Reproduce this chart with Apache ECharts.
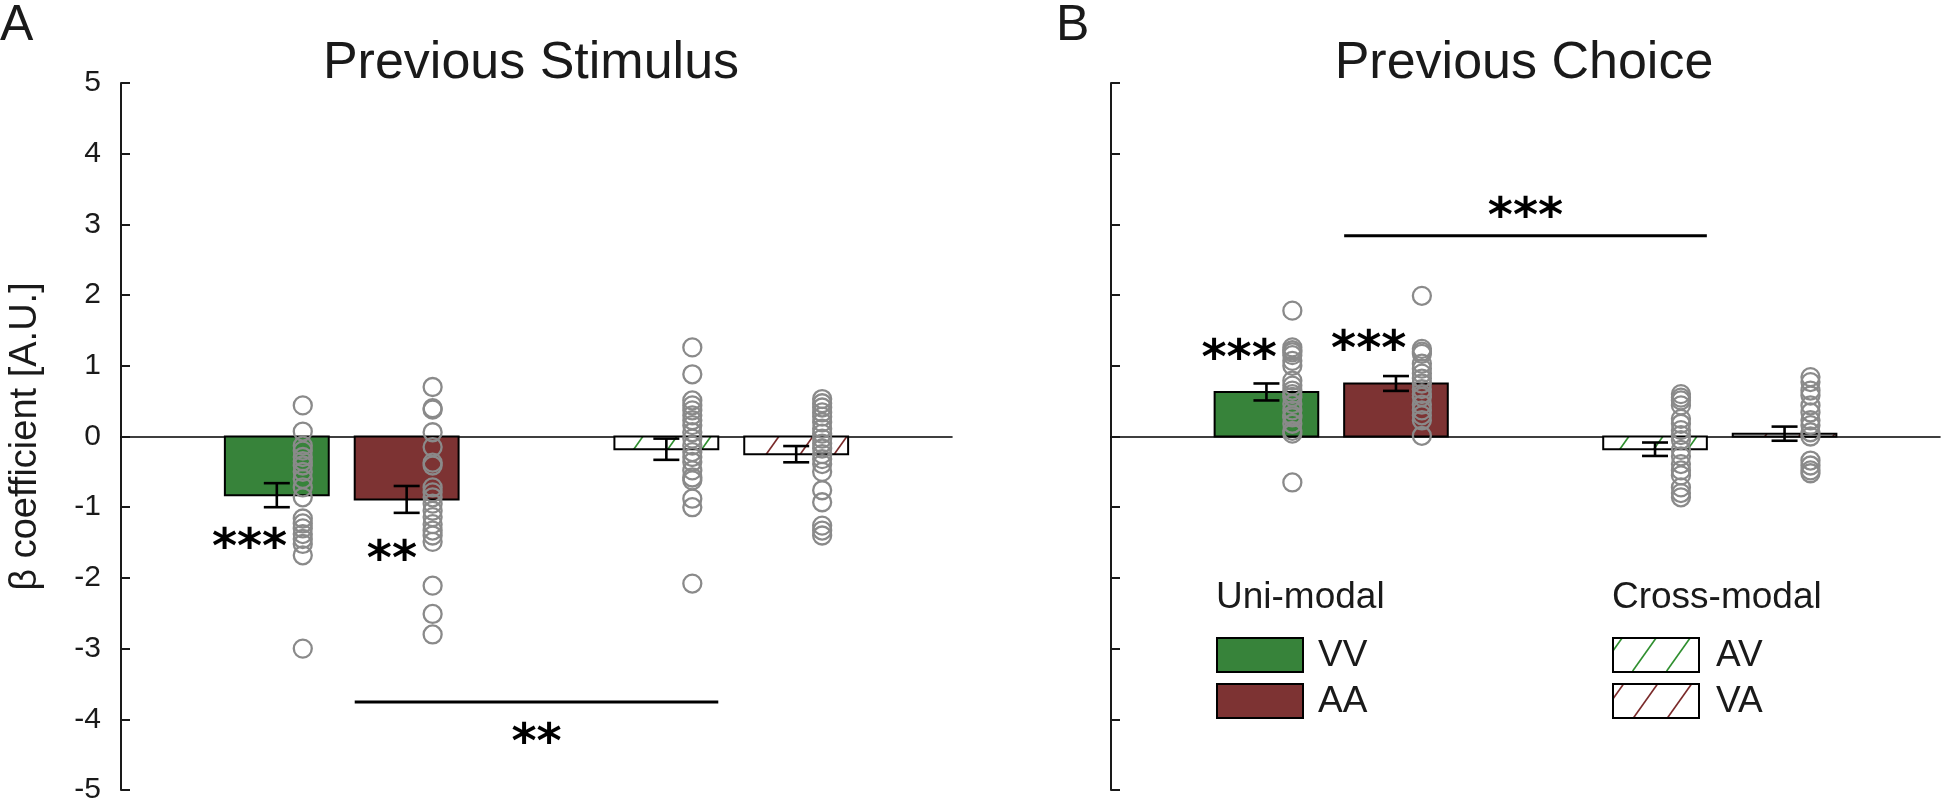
<!DOCTYPE html>
<html>
<head>
<meta charset="utf-8">
<script src="https://cdn.jsdelivr.net/npm/echarts@6/dist/echarts.min.js"></script>
<style>
html,body{margin:0;padding:0;background:#fff;}
#chart{width:1944px;height:807px;}
</style>
</head>
<body>
<div id="chart"></div>
<script>
// ---------- data ----------
const conditions = ['VV', 'AA', 'AV', 'VA'];
const positions = [1, 2, 4, 5];
const panelTitles = ['Previous Stimulus', 'Previous Choice'];
const yAxisName = 'β coefficient [A.U.]';

const stimMeans = [-0.83, -0.89, -0.18, -0.25];
const stimSEM = [0.17, 0.19, 0.15, 0.115];
const choiceMeans = [0.63, 0.75, -0.18, 0.04];
const choiceSEM = [0.12, 0.105, 0.095, 0.10];

const stimVV = [0.44, 0.07, -0.13, -0.2, -0.29, -0.35, -0.41, -0.5, -0.6, -0.72, -0.86, -1.16, -1.23, -1.3, -1.38, -1.45, -1.52, -1.68, -3.0];
const stimAA = [0.70, 0.40, 0.38, 0.06, -0.15, -0.37, -0.41, -0.72, -0.79, -0.86, -0.95, -1.05, -1.14, -1.24, -1.33, -1.40, -1.49, -2.11, -2.51, -2.80];
const stimAV = [1.26, 0.88, 0.51, 0.44, 0.37, 0.30, 0.23, 0.16, 0.06, -0.03, -0.13, -0.22, -0.29, -0.36, -0.48, -0.58, -0.62, -0.88, -1.0, -2.08];
const stimVA = [0.53, 0.47, 0.41, 0.34, 0.28, 0.20, 0.11, 0.04, -0.03, -0.10, -0.17, -0.25, -0.32, -0.39, -0.50, -0.76, -0.93, -1.26, -1.33, -1.40];

const choiceVV = [1.78, 1.26, 1.22, 1.19, 1.15, 1.07, 1.00, 0.79, 0.72, 0.65, 0.60, 0.56, 0.46, 0.37, 0.30, 0.27, 0.18, 0.08, 0.04, -0.65];
const choiceAA = [1.99, 1.24, 1.20, 1.17, 1.03, 0.96, 0.89, 0.82, 0.75, 0.67, 0.60, 0.56, 0.45, 0.37, 0.30, 0.23, 0.01];
const choiceAV = [0.60, 0.55, 0.51, 0.44, 0.25, 0.18, 0.09, 0.02, -0.05, -0.19, -0.28, -0.39, -0.48, -0.55, -0.72, -0.80, -0.86];
const choiceVA = [0.84, 0.77, 0.65, 0.58, 0.44, 0.34, 0.23, 0.16, 0.06, 0.0, -0.34, -0.41, -0.48, -0.52];

// significance annotations: [x, y, label, align]
const stimStars = [[1.08, -1.46, '***', 'right'], [2.08, -1.62, '**', 'right'], [3.0, -4.22, '**', 'center']];
const choiceStars = [[1.08, 1.22, '***', 'right'], [2.08, 1.35, '***', 'right'], [3.0, 3.23, '***', 'center']];
const stimSigLine = [[1.6, -3.755], [4.4, -3.755]];
const choiceSigLine = [[1.6, 2.84], [4.4, 2.84]];

// ---------- styles ----------
const FONT = 'Liberation Sans, Arial, Helvetica, sans-serif';
const GREEN = '#37833a';
const RED = '#7d3333';
const HATCH_GREEN = '#2f8f2f';
const HATCH_RED = '#7a2a2a';
const INK = '#1a1a1a';

function hatchPattern(color) {
  const w = 34, h = 48;
  const c = document.createElement('canvas');
  c.width = w; c.height = h;
  const ctx = c.getContext('2d');
  ctx.fillStyle = '#ffffff';
  ctx.fillRect(0, 0, w, h);
  ctx.strokeStyle = color;
  ctx.lineWidth = 1.6;
  ctx.beginPath();
  ctx.moveTo(-3, h + 3 * h / w);
  ctx.lineTo(w + 3, -3 * h / w);
  ctx.stroke();
  return { image: c, repeat: 'repeat' };
}
const fills = [GREEN, RED, hatchPattern(HATCH_GREEN), hatchPattern(HATCH_RED)];

const chart = echarts.init(document.getElementById('chart'), null, { renderer: 'canvas' });

function barSeries(p, means) {
  return {
    type: 'custom', xAxisIndex: p, yAxisIndex: p, z: 2, silent: true,
    data: positions.map((x, i) => [x, means[i], i]),
    renderItem: function (params, api) {
      const x = api.value(0), v = api.value(1), i = api.value(2);
      const a = api.coord([x - 0.4, 0]);
      const b = api.coord([x + 0.4, v]);
      return {
        type: 'rect',
        shape: { x: a[0], y: Math.min(a[1], b[1]), width: b[0] - a[0], height: Math.abs(b[1] - a[1]) },
        style: { fill: fills[i], stroke: '#000', lineWidth: 2 }
      };
    }
  };
}

function errSeries(p, means, sems) {
  return {
    type: 'custom', xAxisIndex: p, yAxisIndex: p, z: 3, silent: true,
    data: positions.map((x, i) => [x, means[i], sems[i]]),
    renderItem: function (params, api) {
      const x = api.value(0), m = api.value(1), s = api.value(2);
      const top = api.coord([x, m + s]);
      const bot = api.coord([x, m - s]);
      const st = { stroke: '#000', lineWidth: 2.6 };
      return {
        type: 'group',
        children: [
          { type: 'line', shape: { x1: top[0], y1: top[1], x2: bot[0], y2: bot[1] }, style: st },
          { type: 'line', shape: { x1: top[0] - 13, y1: top[1], x2: top[0] + 13, y2: top[1] }, style: st },
          { type: 'line', shape: { x1: bot[0] - 13, y1: bot[1], x2: bot[0] + 13, y2: bot[1] }, style: st }
        ]
      };
    }
  };
}

function dotSeries(p, idx, vals) {
  return {
    type: 'scatter', xAxisIndex: p, yAxisIndex: p, z: 4, silent: true,
    symbol: 'circle', symbolSize: 18,
    itemStyle: { color: 'rgba(0,0,0,0)', borderColor: '#8a8a8a', borderWidth: 2.3, opacity: 1 },
    data: vals.map(v => [positions[idx] + 0.2, v])
  };
}

function starSeries(p, stars) {
  return {
    type: 'custom', xAxisIndex: p, yAxisIndex: p, z: 5, silent: true,
    data: stars.map(s => [s[0], s[1]]),
    renderItem: function (params, api) {
      const s = stars[params.dataIndex];
      const pt = api.coord([api.value(0), api.value(1)]);
      return {
        type: 'text',
        x: pt[0], y: pt[1] + 10,
        style: {
          text: s[2], fill: '#000', fontSize: 48, fontWeight: 'bold', fontFamily: 'DejaVu Sans',
          align: s[3], textAlign: s[3], verticalAlign: 'middle', textVerticalAlign: 'middle'
        }
      };
    }
  };
}

function sigLine(p, pts) {
  return {
    type: 'line', xAxisIndex: p, yAxisIndex: p, z: 5, silent: true,
    symbol: 'none', data: pts,
    lineStyle: { color: '#000', width: 3 }
  };
}

const series = [];
const panels = [
  { means: stimMeans, sems: stimSEM, dots: [stimVV, stimAA, stimAV, stimVA], stars: stimStars, sig: stimSigLine },
  { means: choiceMeans, sems: choiceSEM, dots: [choiceVV, choiceAA, choiceAV, choiceVA], stars: choiceStars, sig: choiceSigLine }
];
panels.forEach((pn, p) => {
  series.push(barSeries(p, pn.means));
  series.push(errSeries(p, pn.means, pn.sems));
  pn.dots.forEach((d, i) => series.push(dotSeries(p, i, d)));
  series.push(starSeries(p, pn.stars));
  series.push(sigLine(p, pn.sig));
});

function xAxisCfg(p) {
  return {
    gridIndex: p, type: 'value', min: -0.2, max: 6.2,
    axisLine: { show: true, onZero: true, lineStyle: { color: '#000', width: 1.6 } },
    axisTick: { show: false }, axisLabel: { show: false }, splitLine: { show: false }
  };
}
function yAxisCfg(p) {
  return {
    gridIndex: p, type: 'value', min: -5, max: 5, interval: 1,
    axisLine: { show: true, onZero: false, lineStyle: { color: INK, width: 2 } },
    axisTick: { show: true, inside: true, length: 9, lineStyle: { color: INK, width: 2 } },
    axisLabel: { show: p === 0, fontSize: 30, color: INK, margin: 20, fontFamily: FONT },
    splitLine: { show: false },
    name: p === 0 ? yAxisName : '',
    nameLocation: 'middle', nameGap: 76, nameRotate: 90,
    nameTextStyle: { fontSize: 38, color: INK, fontFamily: FONT }
  };
}

function txt(x, y, text, size, align) {
  return {
    type: 'text', x: x, y: y, silent: true,
    style: { text: text, fill: INK, fontSize: size, fontFamily: FONT,
      align: align || 'left', textAlign: align || 'left', verticalAlign: 'middle', textVerticalAlign: 'middle' }
  };
}
function box(x, y, fill) {
  return { type: 'rect', silent: true, shape: { x: x, y: y, width: 86, height: 34 },
    style: { fill: fill, stroke: '#000', lineWidth: 2 } };
}

const graphics = [
  txt(0, 26, 'A', 50),
  txt(1056, 26, 'B', 50),
  txt(531, 64, panelTitles[0], 52, 'center'),
  txt(1524, 64, panelTitles[1], 52, 'center'),
  txt(1216, 598, 'Uni-modal', 37),
  box(1217, 638, fills[0]),
  box(1217, 684, fills[1]),
  txt(1318, 656, conditions[0], 37),
  txt(1318, 702, conditions[1], 37),
  txt(1612, 598, 'Cross-modal', 37),
  box(1613, 638, fills[2]),
  box(1613, 684, fills[3]),
  txt(1716, 656, conditions[2], 37),
  txt(1716, 702, conditions[3], 37)
];

chart.setOption({
  animation: false,
  backgroundColor: '#ffffff',
  grid: [
    { left: 121, top: 83, width: 831, height: 707 },
    { left: 1111, top: 83, width: 829, height: 707 }
  ],
  xAxis: [xAxisCfg(0), xAxisCfg(1)],
  yAxis: [yAxisCfg(0), yAxisCfg(1)],
  series: series,
  graphic: graphics
});
</script>
</body>
</html>
